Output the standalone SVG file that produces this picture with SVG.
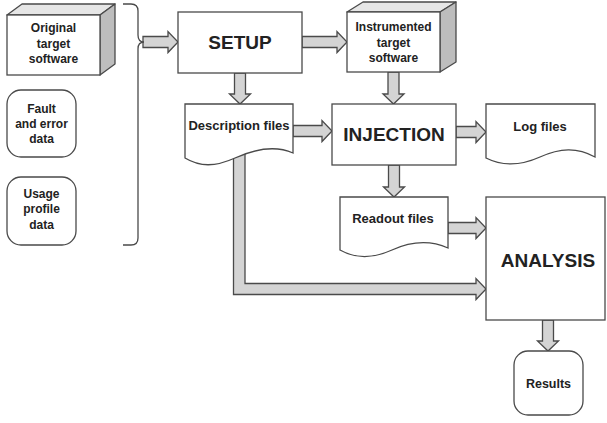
<svg xmlns="http://www.w3.org/2000/svg" width="607" height="423" viewBox="0 0 607 423">
  <style>
    .box { fill: #ffffff; stroke: #4a4a4a; stroke-width: 1.3; }
    .top { fill: #e6e6e6; stroke: #4a4a4a; stroke-width: 1.3; stroke-linejoin: round; }
    .side { fill: #bdbdbd; stroke: #4a4a4a; stroke-width: 1.3; stroke-linejoin: round; }
    .arrow { fill: #d4d4d4; stroke: #4a4a4a; stroke-width: 1.3; stroke-linejoin: miter; }
    .brace { fill: none; stroke: #4a4a4a; stroke-width: 1.3; }
    text { font-family: "Liberation Sans", Arial, sans-serif; font-weight: bold; fill: #222222; text-anchor: middle; }
    .small { font-size: 12px; }
    .doc { font-size: 13px; }
    .big { font-size: 19px; }
  </style>
  <rect width="607" height="423" fill="#ffffff"/>

  <!-- connectors: block arrows -->
  <g id="connectors">
    <!-- inputs -> SETUP -->
    <polygon class="arrow" points="143,36.5 168,36.5 168,31.5 178,42 168,52.5 168,47.5 143,47.5"/>
    <!-- SETUP -> instrumented software -->
    <polygon class="arrow" points="302,36.5 337,36.5 337,31.5 347,42 337,52.5 337,47.5 302,47.5"/>
    <!-- SETUP -> description files -->
    <polygon class="arrow" points="234.5,73 245.5,73 245.5,94 250.5,94 240,104 229.5,94 234.5,94"/>
    <!-- instrumented software -> INJECTION -->
    <polygon class="arrow" points="388,72 399,72 399,94 404,94 393.5,104 383,94 388,94"/>
    <!-- description files -> INJECTION -->
    <polygon class="arrow" points="293,125.5 322,125.5 322,120.5 332,131 322,141.5 322,136.5 293,136.5"/>
    <!-- INJECTION -> log files -->
    <polygon class="arrow" points="456,126.5 476,126.5 476,121.5 486,132 476,142.5 476,137.5 456,137.5"/>
    <!-- INJECTION -> readout files -->
    <polygon class="arrow" points="388.5,165 399.5,165 399.5,187 404.5,187 394,197 383.5,187 388.5,187"/>
    <!-- readout files -> ANALYSIS -->
    <polygon class="arrow" points="448,222.5 476,222.5 476,217.5 486,228 476,238.5 476,233.5 448,233.5"/>
    <!-- description files -> ANALYSIS -->
    <polygon class="arrow" points="245,150 245,283.5 476,283.5 476,278.5 486,289 476,299.5 476,294.5 233.5,294.5 233.5,150"/>
    <!-- ANALYSIS -> results -->
    <polygon class="arrow" points="542.5,320 553.5,320 553.5,341 558.5,341 548,351 537.5,341 542.5,341"/>
  </g>

  <!-- input bracket -->
  <g id="bracket">
    <path class="brace" d="M123,4 H131 Q138,4 138,11 V35 Q138,42 144,42 Q138,42 138,49 V238 Q138,245 131,245 H123"/>
  </g>

  <g id="original-software">
    <polygon class="top" points="7,15 22,4 115,4 100,15"/>
    <polygon class="side" points="100,15 115,4 115,64 100,75"/>
    <rect class="box" x="7" y="15" width="93" height="60"/>
    <text class="small" x="53.5" y="32">Original</text>
    <text class="small" x="53.5" y="48">target</text>
    <text class="small" x="53.5" y="63">software</text>
  </g>

  <g id="fault-data">
    <rect class="box" x="7" y="90" width="69" height="67" rx="14"/>
    <text class="small" x="41.5" y="113">Fault</text>
    <text class="small" x="41.5" y="128">and error</text>
    <text class="small" x="41.5" y="143">data</text>
  </g>

  <g id="usage-data">
    <rect class="box" x="7" y="177" width="69" height="68" rx="14"/>
    <text class="small" x="41.5" y="198">Usage</text>
    <text class="small" x="41.5" y="213">profile</text>
    <text class="small" x="41.5" y="229">data</text>
  </g>

  <g id="setup">
    <rect class="box" x="178" y="12" width="124" height="61"/>
    <text class="big" x="240" y="49">SETUP</text>
  </g>

  <g id="instrumented-software">
    <polygon class="top" points="347,12 363,2 456,2 440,12"/>
    <polygon class="side" points="440,12 456,2 456,62 440,72"/>
    <rect class="box" x="347" y="12" width="93" height="60"/>
    <text class="small" x="393.5" y="31">Instrumented</text>
    <text class="small" x="393.5" y="47">target</text>
    <text class="small" x="393.5" y="62">software</text>
  </g>

  <g id="description-files">
    <path class="box" d="M185,104 H293 V153 C275,145 255,149 235,158 C215,167 200,167 185,158 Z"/>
    <text class="doc" x="239" y="130">Description files</text>
  </g>

  <g id="injection">
    <rect class="box" x="332" y="104" width="124" height="61"/>
    <text class="big" x="394" y="141">INJECTION</text>
  </g>

  <g id="log-files">
    <path class="box" d="M486,104 H595 V157 C577,147 560,148 540,157 C520,166 502,166 486,158 Z"/>
    <text class="doc" x="540" y="131">Log files</text>
  </g>

  <g id="readout-files">
    <path class="box" d="M340,197 H448 V248 C430,240 412,241 392,250 C372,259 356,259 340,250 Z"/>
    <text class="doc" x="393" y="223">Readout files</text>
  </g>

  <g id="analysis">
    <rect class="box" x="486" y="197" width="119" height="123"/>
    <text class="big" x="548" y="267">ANALYSIS</text>
  </g>

  <g id="results">
    <rect class="box" x="514" y="351" width="69" height="64" rx="14"/>
    <text class="doc" x="548.5" y="388" style="font-size:12.5px">Results</text>
  </g>
</svg>
